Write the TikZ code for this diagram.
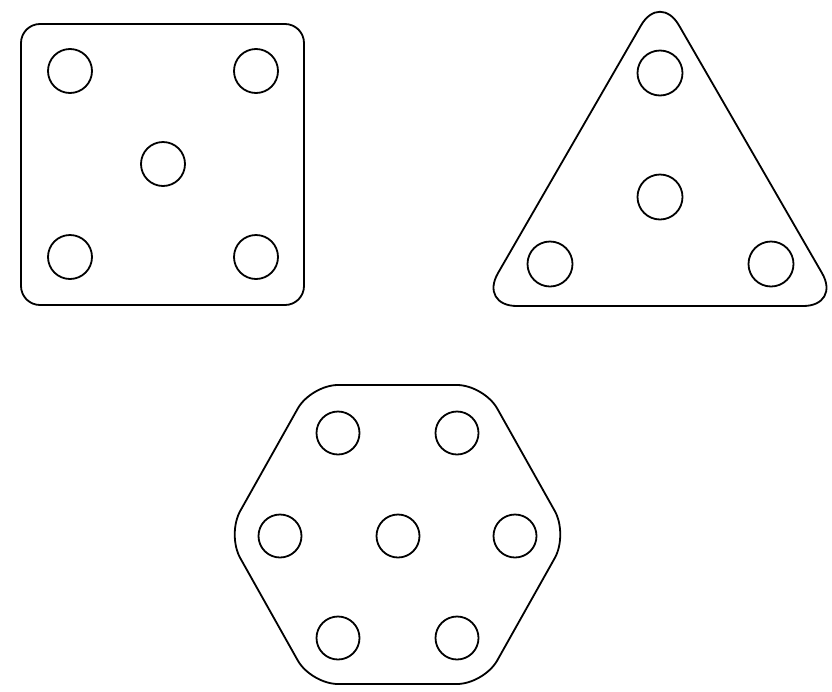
\documentclass[tikz,border=0pt]{standalone}
\begin{document}
\begin{tikzpicture}[x=1pt,y=-1pt,
  plate/.style={draw=black,line width=1.8pt,line join=round},
  hole/.style={draw=black,line width=1.8pt}]
\useasboundingbox (0,0) rectangle (832,691);
% square plate
\draw[plate,rounded corners=19] (21,24) rectangle (304,305);
\foreach \p in {(70,71),(256,71),(163,164),(70,257),(256,257)}
  \draw[hole] \p circle (22);
% triangle plate
\draw[plate,rounded corners=38] (479,306) -- (660,-7.5) -- (841,306) -- cycle;
\foreach \p in {(660,73),(660,197),(550,264),(771,264)}
  \draw[hole] \p circle (22.5);
% hexagon plate
\draw[plate,rounded corners=27] (311,385) -- (484,385) -- (568,534.5) -- (484,684) -- (311,684) -- (227,534.5) -- cycle;
\foreach \p in {(338,433),(457,433),(280,536),(398,536),(515,536),(338,638),(457,638)}
  \draw[hole] \p circle (21.5);
\end{tikzpicture}
\end{document}
